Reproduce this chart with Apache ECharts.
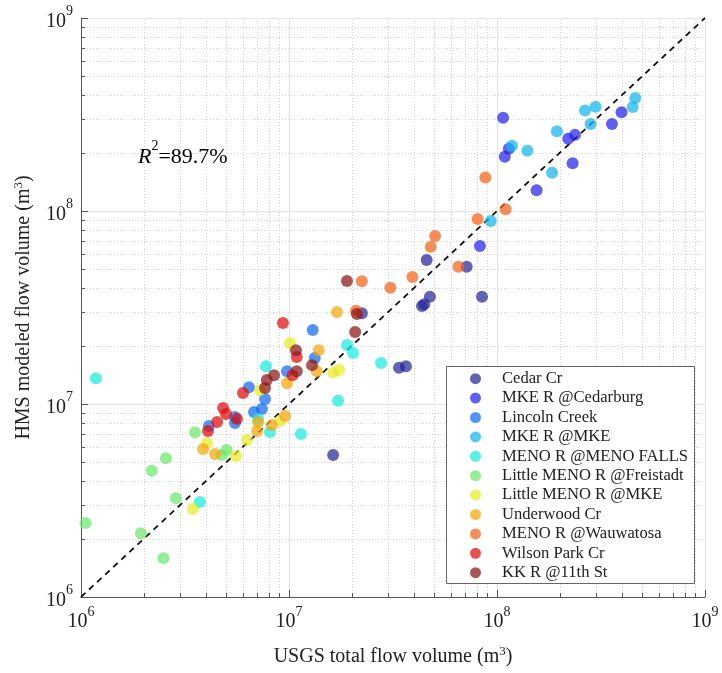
<!DOCTYPE html>
<html>
<head>
<meta charset="utf-8">
<script src="https://cdn.jsdelivr.net/npm/echarts@6/dist/echarts.min.js"></script>
<style>
html, body { margin: 0; padding: 0; background: #fff; }
#main { width: 722px; height: 673px; }
</style>
</head>
<body>
<div id="main"></div>
<script>
// station names and marker colours (jet-like)
var seriesNames = ['Cedar Cr', 'MKE R @Cedarburg', 'Lincoln Creek', 'MKE R @MKE', 'MENO R @MENO FALLS',
	'Little MENO R @Freistadt', 'Little MENO R @MKE', 'Underwood Cr', 'MENO R @Wauwatosa',
	'Wilson Park Cr', 'KK R @11th St'];
var seriesColors = ['#26269a', '#2323eb', '#126af2', '#14b6eb', '#16ebde',
	'#6be86b', '#e8eb23', '#f5a60b', '#f56316', '#e00b0b', '#8b1616'];

// [USGS total, HMS modeled] in m3
var cedarCr = [[1.63e7, 5.44e6], [2.24e7, 2.95e7], [3.38e7, 1.54e7], [3.65e7, 1.57e7], [4.47e7, 3.29e7],
	[4.36e7, 3.22e7], [4.76e7, 3.6e7], [4.59e7, 5.57e7], [7.15e7, 5.14e7], [8.47e7, 3.6e7]];
var mkeCedarburg = [[1.07e8, 3.04e8], [1.09e8, 1.91e8], [1.14e8, 2.10e8], [1.55e8, 1.28e8], [2.31e8, 1.77e8],
	[2.20e8, 2.37e8], [2.37e8, 2.48e8], [3.57e8, 2.82e8], [3.97e8, 3.25e8], [8.28e7, 6.59e7]];
var lincolnCreek = [[1.30e7, 2.42e7], [1.33e7, 1.73e7], [9.78e6, 1.48e7], [6.42e6, 1.22e7], [7.67e6, 1.06e7],
	[7.41e6, 9.42e6], [6.79e6, 9.09e6], [4.12e6, 7.69e6], [5.5e6, 8.57e6], [5.5e6, 7.97e6]];
var mkeMke = [[1.18e8, 2.18e8], [1.40e8, 2.05e8], [1.94e8, 2.59e8], [1.84e8, 1.58e8], [2.65e8, 3.32e8],
	[2.98e8, 3.47e8], [2.82e8, 2.82e8], [4.49e8, 3.46e8], [4.62e8, 3.85e8], [9.33e7, 8.87e7]];
var menoFalls = [[1.18e6, 1.36e7], [3.73e6, 3.11e6], [7.1e6, 8.36e6], [8.1e6, 7.16e6], [1.14e7, 7.0e6],
	[7.75e6, 1.57e7], [1.72e7, 1.04e7], [1.90e7, 2.02e7], [2.03e7, 1.84e7], [2.77e7, 1.63e7]];
var littleMenoFreistadt = [[1.05e6, 2.42e6], [1.94e6, 2.14e6], [2.49e6, 1.59e6], [2.86e6, 3.25e6], [2.19e6, 4.51e6],
	[2.56e6, 5.23e6], [3.53e6, 7.13e6], [4.75e6, 5.44e6], [5.01e6, 5.78e6]];
var littleMenoMke = [[3.45e6, 2.86e6], [4.03e6, 6.28e6], [5.56e6, 5.38e6], [6.28e6, 6.51e6], [7.26e6, 1.18e7],
	[9.05e6, 8.16e6], [1.01e7, 2.07e7], [1.63e7, 1.45e7], [1.74e7, 1.50e7]];
var underwoodCr = [[3.86e6, 5.85e6], [4.41e6, 5.51e6], [7.02e6, 7.24e6], [7.1e6, 8.07e6], [8.28e6, 7.78e6],
	[9.57e6, 8.67e6], [9.78e6, 1.28e7], [1.36e7, 1.48e7], [1.39e7, 1.90e7], [1.70e7, 3.0e7]];
var menoWauwatosa = [[8.79e7, 1.49e8], [1.10e8, 1.02e8], [8.07e7, 9.09e7], [5.04e7, 7.42e7], [4.80e7, 6.53e7],
	[3.92e7, 4.55e7], [6.52e7, 5.14e7], [2.24e7, 4.32e7], [3.07e7, 4.0e7], [2.10e7, 3.04e7]];
var wilsonParkCr = [[9.35e6, 2.63e7], [1.09e7, 1.75e7], [1.04e7, 1.41e7], [6.01e6, 1.14e7], [4.82e6, 9.53e6],
	[4.98e6, 8.87e6], [4.51e6, 8.07e6], [4.08e6, 7.24e6], [5.62e6, 8.36e6]];
var kkR11th = [[1.90e7, 4.34e7], [2.12e7, 2.93e7], [2.08e7, 2.36e7], [1.08e7, 1.90e7], [1.09e7, 1.48e7],
	[1.29e7, 1.59e7], [8.47e6, 1.41e7], [7.82e6, 1.33e7], [7.67e6, 1.21e7]];

var seriesData = [cedarCr, mkeCedarburg, lincolnCreek, mkeMke, menoFalls, littleMenoFreistadt,
	littleMenoMke, underwoodCr, menoWauwatosa, wilsonParkCr, kkR11th];

var axisMin = 1e6;
var axisMax = 1e9;
var oneToOne = [[1e6, 1e6], [1e9, 1e9]];
var r2Text = '89.7%';

// minor ticks 2..9 in each decade
var decades = [1e6, 1e7, 1e8];
var minorMults = [2, 3, 4, 5, 6, 7, 8, 9];
var minorTicks = [];
for (var i = 0; i < decades.length; i++) {
	for (var j = 0; j < minorMults.length; j++) {
		minorTicks.push([decades[i] * minorMults[j], decades[i] * minorMults[j]]);
	}
}

var serif = 'Liberation Serif';

function powLabel(v) {
	var e = Math.round(Math.log(v) / Math.LN10);
	return '{b|10}{s|' + e + '}';
}
var powRich = {
	b: { fontFamily: serif, fontSize: 20, color: '#222', lineHeight: 27, verticalAlign: 'bottom' },
	s: { fontFamily: serif, fontSize: 14, color: '#222', verticalAlign: 'top' }
};

var chart = echarts.init(document.getElementById('main'));

var series = [];
series.push({
	type: 'custom',
	name: 'minor',
	silent: true,
	z: 1,
	data: minorTicks,
	renderItem: function (params, api) {
		var v = api.value(0);
		var xb = api.coord([v, axisMin]);
		var xt = api.coord([v, axisMax]);
		var yl = api.coord([axisMin, v]);
		var yr = api.coord([axisMax, v]);
		var dot = { stroke: '#d6d6d6', lineWidth: 1, lineDash: [1, 2] };
		var tick = { stroke: '#555', lineWidth: 1 };
		var bx = Math.round(xb[0]) + 0.5;
		var ly = Math.round(yl[1]) + 0.5;
		return {
			type: 'group',
			children: [
				{ type: 'line', shape: { x1: bx, y1: xb[1], x2: bx, y2: xt[1] }, style: dot },
				{ type: 'line', shape: { x1: yl[0], y1: ly, x2: yr[0], y2: ly }, style: dot },
				{ type: 'line', shape: { x1: bx, y1: xb[1], x2: bx, y2: xb[1] - 4 }, style: tick },
				{ type: 'line', shape: { x1: yl[0], y1: ly, x2: yl[0] + 4, y2: ly }, style: tick }
			]
		};
	}
});
series.push({
	type: 'line',
	name: '1:1',
	data: oneToOne,
	symbol: 'none',
	silent: true,
	z: 3,
	lineStyle: { color: '#111', width: 1.8, type: [6, 5] }
});
for (var k = 0; k < seriesNames.length; k++) {
	series.push({
		type: 'scatter',
		name: seriesNames[k],
		data: seriesData[k],
		symbolSize: 12,
		z: 4,
		itemStyle: { color: seriesColors[k], opacity: 0.72 }
	});
}

var option = {
	backgroundColor: '#fff',
	animation: false,
	grid: { left: 81, top: 18, width: 624, height: 579 },
	xAxis: {
		type: 'log',
		logBase: 10,
		min: axisMin,
		max: axisMax,
		splitNumber: 3,
		name: 'USGS total flow volume (m{s|3})',
		nameLocation: 'middle',
		nameGap: 48,
		nameTextStyle: {
			fontFamily: serif, fontSize: 20, color: '#222',
			rich: {
				s: { fontFamily: serif, fontSize: 13, color: '#222', verticalAlign: 'top', padding: [0, 0, 10, 0] }
			}
		},
		axisLine: { lineStyle: { color: '#555', width: 1 } },
		axisTick: { inside: true, length: 7, lineStyle: { color: '#555' } },
		axisLabel: { formatter: powLabel, rich: powRich, margin: 8, showMinLabel: true, showMaxLabel: true },
		splitLine: { show: true, lineStyle: { color: '#e3e3e3', width: 1 } },
		minorTick: { show: false },
		minorSplitLine: { show: false }
	},
	yAxis: {
		type: 'log',
		logBase: 10,
		min: axisMin,
		max: axisMax,
		splitNumber: 3,
		name: 'HMS modeled flow volume (m{s|3})',
		nameLocation: 'middle',
		nameRotate: 90,
		nameGap: 46,
		nameTextStyle: {
			fontFamily: serif, fontSize: 20, color: '#222',
			rich: {
				s: { fontFamily: serif, fontSize: 13, color: '#222', verticalAlign: 'top', padding: [0, 0, 10, 0] }
			}
		},
		axisLine: { lineStyle: { color: '#555', width: 1 } },
		axisTick: { inside: true, length: 7, lineStyle: { color: '#555' } },
		axisLabel: { formatter: powLabel, rich: powRich, margin: 8, showMinLabel: true, showMaxLabel: true },
		splitLine: { show: true, lineStyle: { color: '#e3e3e3', width: 1 } }
	},
	legend: {
		data: seriesNames,
		orient: 'vertical',
		left: 446,
		top: 366,
		z: 10,
		padding: [3, 4, 4, 24],
		itemWidth: 11,
		itemHeight: 11,
		itemGap: 0,
		icon: 'circle',
		selectedMode: false,
		formatter: '{t|{name}}',
		textStyle: {
			fontFamily: serif, fontSize: 16.6, color: '#222', lineHeight: 19.4,
			rich: {
				t: { fontFamily: serif, fontSize: 16.6, color: '#222', lineHeight: 19.4, padding: [0, 0, 0, 16] }
			}
		}
	},
	graphic: [
		{
			type: 'rect',
			z: 6,
			silent: true,
			shape: { x: 446.5, y: 366.5, width: 248, height: 217 },
			style: { fill: '#fff', stroke: '#666', lineWidth: 1 }
		},
		{
			type: 'text',
			z: 6,
			left: 138,
			top: 139,
			silent: true,
			style: {
				text: '{i|R}{s|2}{n|=' + r2Text + '}',
				rich: {
					i: { fontFamily: serif, fontSize: 22, fontStyle: 'italic', color: '#111', lineHeight: 29, verticalAlign: 'bottom' },
					s: { fontFamily: serif, fontSize: 14, color: '#111', verticalAlign: 'top' },
					n: { fontFamily: serif, fontSize: 22, color: '#111', lineHeight: 29, verticalAlign: 'bottom' }
				}
			}
		}
	],
	series: series
};

chart.setOption(option);
</script>
</body>
</html>
